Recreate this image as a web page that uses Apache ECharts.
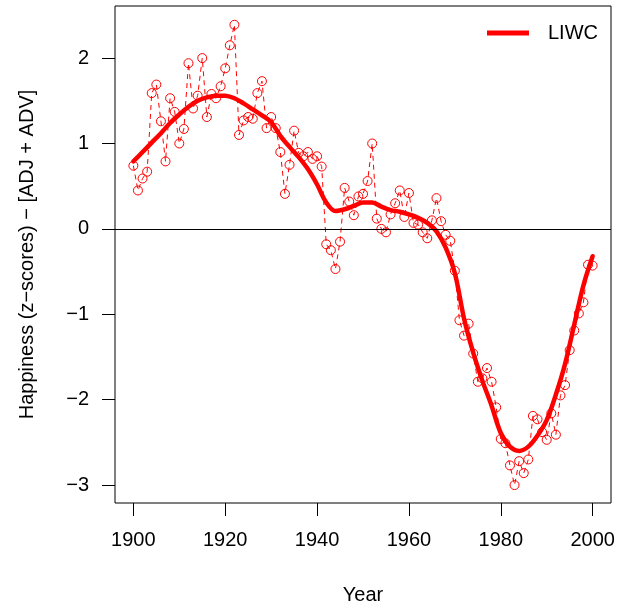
<!DOCTYPE html>
<html>
<head>
<meta charset="utf-8">
<script src="https://cdn.jsdelivr.net/npm/echarts@6/dist/echarts.min.js"></script>
<style>
html,body{margin:0;padding:0;background:#fff}
#main{width:630px;height:608px}
</style>
</head>
<body>
<div id="main"></div>
<script>
// yearly points 1900-2000
const years = [1900,1901,1902,1903,1904,1905,1906,1907,1908,1909,1910,1911,1912,1913,1914,1915,1916,1917,1918,1919,
1920,1921,1922,1923,1924,1925,1926,1927,1928,1929,1930,1931,1932,1933,1934,1935,1936,1937,1938,1939,
1940,1941,1942,1943,1944,1945,1946,1947,1948,1949,1950,1951,1952,1953,1954,1955,1956,1957,1958,1959,
1960,1961,1962,1963,1964,1965,1966,1967,1968,1969,1970,1971,1972,1973,1974,1975,1976,1977,1978,1979,
1980,1981,1982,1983,1984,1985,1986,1987,1988,1989,1990,1991,1992,1993,1994,1995,1996,1997,1998,1999,2000]
const liwc = [0.74,0.45,0.59,0.67,1.59,1.69,1.26,0.79,1.53,1.37,1.00,1.17,1.94,1.41,1.56,2.00,1.31,1.58,1.53,1.67,
1.88,2.15,2.39,1.10,1.27,1.31,1.29,1.59,1.73,1.18,1.31,1.18,0.90,0.41,0.75,1.15,0.89,0.85,0.90,0.82,
0.85,0.73,-0.18,-0.25,-0.47,-0.15,0.48,0.32,0.16,0.38,0.41,0.56,1.00,0.12,0.00,-0.04,0.17,0.30,0.45,0.14,
0.42,0.07,0.05,-0.04,-0.11,0.10,0.36,0.09,-0.07,-0.14,-0.49,-1.07,-1.25,-1.11,-1.46,-1.79,-1.75,-1.63,-1.79,-2.09,
-2.46,-2.51,-2.77,-3.00,-2.72,-2.86,-2.70,-2.19,-2.23,-2.38,-2.47,-2.16,-2.41,-1.95,-1.83,-1.42,-1.19,-0.99,-0.86,-0.42,-0.43]

// smoothed trend, read every 2 years
const smoothYears = [1900,1902,1904,1906,1908,1910,1912,1914,1916,1918,1920,1922,1924,1926,1928,1930,1932,1934,1936,1938,
1940,1942,1944,1946,1948,1950,1952,1954,1956,1958,1960,1962,1964,1966,1968,1970,1972,1974,1976,1978,
1980,1982,1984,1986,1988,1990,1992,1994,1996,1998,2000]
const smoothVals = [0.79,0.90,1.01,1.12,1.24,1.34,1.43,1.50,1.54,1.56,1.56,1.53,1.47,1.40,1.33,1.25,1.09,0.96,0.84,0.70,
0.52,0.31,0.21,0.23,0.27,0.31,0.31,0.26,0.22,0.20,0.17,0.13,0.07,-0.03,-0.22,-0.52,-1.05,-1.45,-1.78,-2.07,
-2.39,-2.55,-2.60,-2.55,-2.42,-2.24,-1.94,-1.58,-1.12,-0.66,-0.32]

const xTicks = [1900,1920,1940,1960,1980,2000]
const yTicks = [-3,-2,-1,0,1,2]

const font = 'Liberation Sans, Arial, Helvetica, sans-serif'
const chart = echarts.init(document.getElementById('main'), null, {renderer: 'canvas'})

chart.setOption({
  animation: false,
  backgroundColor: '#fff',
  textStyle: {fontFamily: font, color: '#000'},
  grid: {
    left: 115, top: 6, right: 19, bottom: 105,
    show: true, borderColor: '#000', borderWidth: 1,
    backgroundColor: 'transparent',
    outerBoundsMode: 'none'
  },
  legend: {
    data: ['LIWC'],
    left: 487, top: 23,
    icon: 'rect',
    itemWidth: 42, itemHeight: 5,
    padding: 0,
    itemStyle: {color: '#ff0000'},
    textStyle: {fontSize: 20, color: '#000', fontFamily: font, padding: [0, 0, 0, 14]}
  },
  xAxis: {
    type: 'value', min: 1896, max: 2004,
    name: 'Year', nameLocation: 'middle', nameGap: 82,
    nameTextStyle: {fontSize: 20, color: '#000', fontFamily: font},
    axisLine: {show: false, onZero: false},
    axisTick: {show: true, inside: false, length: 13, customValues: xTicks, lineStyle: {color: '#000', width: 1}},
    axisLabel: {customValues: xTicks, margin: 27, fontSize: 20, color: '#000', fontFamily: font,
      formatter: v => String(v)},
    splitLine: {show: false}
  },
  yAxis: {
    type: 'value', min: -3.21, max: 2.61,
    name: 'Happiness (z\u2212scores) \u2212 [ADJ + ADV]', nameLocation: 'middle', nameGap: 78,
    nameTextStyle: {fontSize: 20, color: '#000', fontFamily: font},
    axisLine: {show: false, onZero: false},
    axisTick: {show: true, inside: false, length: 13, customValues: yTicks, lineStyle: {color: '#000', width: 1}},
    axisLabel: {customValues: yTicks, margin: 26, fontSize: 20, color: '#000', fontFamily: font,
      formatter: v => (v < 0 ? '\u2212' + Math.abs(v) : String(v))},
    splitLine: {show: false}
  },
  series: [
    {
      name: 'points',
      type: 'line',
      data: years.map((y, i) => [y, liwc[i]]),
      symbol: 'circle', symbolSize: 9,
      itemStyle: {color: 'rgba(0,0,0,0)', borderColor: '#ff0000', borderWidth: 1},
      lineStyle: {color: '#ff0000', width: 1, type: [5, 4]},
      markLine: {
        silent: true, symbol: 'none',
        label: {show: false},
        lineStyle: {color: '#000', width: 1, type: 'solid'},
        data: [{yAxis: 0}]
      },
      z: 2
    },
    {
      name: 'LIWC',
      type: 'line',
      data: smoothYears.map((y, i) => [y, smoothVals[i]]),
      smooth: 0.35,
      symbol: 'none',
      itemStyle: {color: '#ff0000'},
      lineStyle: {color: '#ff0000', width: 4.5, cap: 'round'},
      z: 3
    }
  ]
})
</script>
</body>
</html>
